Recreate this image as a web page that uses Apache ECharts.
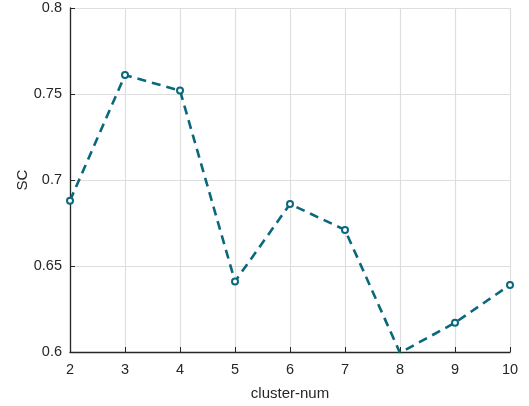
<!DOCTYPE html>
<html><head><meta charset="utf-8">
<script src="https://cdn.jsdelivr.net/npm/echarts@6/dist/echarts.min.js"></script>
<style>html,body{margin:0;padding:0;background:#fff}#c{width:529px;height:406px}</style>
</head><body><div id="c"></div>
<script>
const clusterNum = [2, 3, 4, 5, 6, 7, 8, 9, 10];
const scValues = [0.688, 0.761, 0.752, 0.641, 0.686, 0.671, 0.5995, 0.617, 0.639];
const yTicks = ['0.6', '0.65', '0.7', '0.75', '0.8'];
const xLabel = 'cluster-num';
const yLabel = 'SC';

const chart = echarts.init(document.getElementById('c'));
const txt = '#262626';
chart.setOption({
  animation: false,
  grid: {left: 70, right: 19, top: 8, bottom: 51},
  xAxis: {
    type: 'value', min: 2, max: 10, interval: 1,
    name: xLabel, nameLocation: 'middle', nameGap: 34,
    nameTextStyle: {color: txt, fontSize: 15, fontFamily: 'Liberation Sans'},
    axisLine: {onZero: false, lineStyle: {color: txt, width: 1.3}},
    axisTick: {inside: true, length: 5, lineStyle: {color: txt}},
    axisLabel: {color: txt, fontSize: 14.5, fontFamily: 'Liberation Sans', margin: 10},
    splitLine: {show: true, lineStyle: {color: '#dedede', width: 1.2}}
  },
  yAxis: {
    type: 'value', min: 0.6, max: 0.8, interval: 0.05,
    name: yLabel, nameLocation: 'middle', nameGap: 40, nameRotate: 90,
    nameMoveOverlap: false,
    nameTextStyle: {color: txt, fontSize: 15, fontFamily: 'Liberation Sans'},
    axisLine: {show: true, onZero: false, lineStyle: {color: txt, width: 1.3}},
    axisTick: {show: true, inside: true, length: 5, lineStyle: {color: txt}},
    axisLabel: {color: txt, fontSize: 14.5, fontFamily: 'Liberation Sans', margin: 8,
      formatter: v => { const s = yTicks.find(t => Math.abs(parseFloat(t) - v) < 1e-9); return s || ''; }},
    splitLine: {show: true, lineStyle: {color: '#dedede', width: 1.2}}
  },
  series: [{
    type: 'line',
    data: clusterNum.map((x, i) => [x, scValues[i]]),
    symbol: 'emptyCircle', symbolSize: 6,
    lineStyle: {color: '#0a687b', width: 2.6, type: [9, 6]},
    itemStyle: {color: '#0a687b', borderColor: '#0a687b', borderWidth: 2}
  }]
});
</script></body></html>
